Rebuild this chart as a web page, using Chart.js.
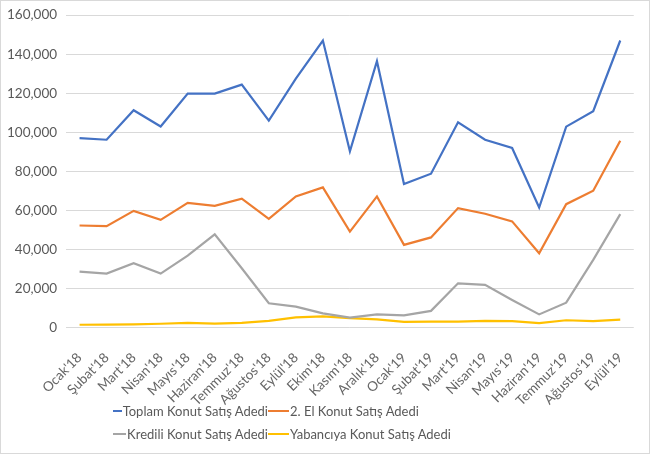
<!DOCTYPE html>
<html>
<head>
<meta charset="utf-8">
<script src="https://cdn.jsdelivr.net/npm/chart.js@4.4.1/dist/chart.umd.min.js"></script>
<style>
  body { margin: 0; background: #fff; }
  #wrap {
    position: relative;
    width: 650px; height: 454px;
    box-sizing: border-box;
    border: 1px solid #d9d9d9;
    overflow: hidden;
    font-family: Lato, 'Open Sans', sans-serif;
  }
  #chart { position: absolute; left: -5px; top: -3px; }
  #legend {
    position: absolute; left: 112px; top: 402px;
    display: grid;
    grid-template-columns: 155px 240px;
    row-gap: 7px;
    font-size: 13px; color: #595959;
  }
  .item { display: flex; align-items: center; white-space: nowrap; }
  .item span.ln { display: inline-block; width: 21px; height: 2px; margin-right: 1px; }
</style>
</head>
<body>
<div id="wrap">
  <canvas id="chart" width="650" height="425"></canvas>
  <div id="legend"></div>
</div>
<script>
const months = ["Ocak'18", "Şubat'18", "Mart'18", "Nisan'18", "Mayıs'18", "Haziran'18", "Temmuz'18",
  "Ağustos'18", "Eylül'18", "Ekim'18", "Kasım'18", "Aralık'18", "Ocak'19", "Şubat'19", "Mart'19",
  "Nisan'19", "Mayıs'19", "Haziran'19", "Temmuz'19", "Ağustos'19", "Eylül'19"]

const toplam = [97000, 96200, 111300, 103000, 119800, 119800, 124400, 106000, 127500, 147000,
  90300, 136400, 73500, 78800, 105100, 96200, 92000, 61500, 102900, 110800, 147000]
const ikinciEl = [52300, 52000, 59800, 55200, 63900, 62400, 66000, 55700, 67200, 71800,
  49200, 67200, 42400, 46200, 61200, 58300, 54400, 38100, 63200, 70100, 95700]
const kredili = [28700, 27700, 33000, 27700, 36900, 47800, 30400, 12500, 10800, 7300,
  5100, 6800, 6300, 8600, 22700, 21900, 14200, 6800, 12800, 34700, 58100]
const yabanci = [1500, 1600, 1700, 2000, 2500, 2100, 2500, 3500, 5300, 5800,
  4900, 4200, 3000, 3100, 3100, 3500, 3400, 2300, 3800, 3400, 4100]

const seriesNames = ['Toplam Konut Satış Adedi', '2. El Konut Satış Adedi',
  'Kredili Konut Satış Adedi', 'Yabancıya Konut Satış Adedi']
const colors = ['#4472C4', '#ED7D31', '#A5A5A5', '#FFC000']

const data = {
  labels: months,
  datasets: [toplam, ikinciEl, kredili, yabanci].map((values, i) => ({
    label: seriesNames[i],
    data: values,
    borderColor: colors[i],
    backgroundColor: colors[i],
    borderWidth: 2.2,
    pointRadius: 0,
    tension: 0,
    fill: false,
  })),
}

// legend goes in the html so it can sit in two columns like the original
const legendEl = document.getElementById('legend')
data.datasets.forEach(ds => {
  const item = document.createElement('div')
  item.className = 'item'
  item.innerHTML = `<span class="ln" style="background:${ds.borderColor}"></span>${ds.label}`
  legendEl.appendChild(item)
})

const options = {
  responsive: false,
  animation: false,
  layout: { padding: { top: 3, right: 12, left: 2, bottom: 0 } },
  plugins: { legend: { display: false }, tooltip: { enabled: false } },
  scales: {
    y: {
      min: 0,
      max: 160000,
      border: { display: false },
      grid: { color: '#d9d9d9', drawTicks: false },
      ticks: {
        stepSize: 20000,
        padding: 9,
        color: '#595959',
        font: { family: 'Lato', size: 13.5 },
        callback: v => v.toLocaleString('en-US'),
      },
    },
    x: {
      offset: true,
      border: { display: false },
      grid: { display: false },
      ticks: {
        minRotation: 45,
        maxRotation: 45,
        autoSkip: false,
        padding: 14,
        color: '#666666',
        font: { family: 'Lato', size: 13.5 },
      },
    },
  },
}

new Chart(document.getElementById('chart'), { type: 'line', data: data, options: options })
</script>
</body>
</html>
